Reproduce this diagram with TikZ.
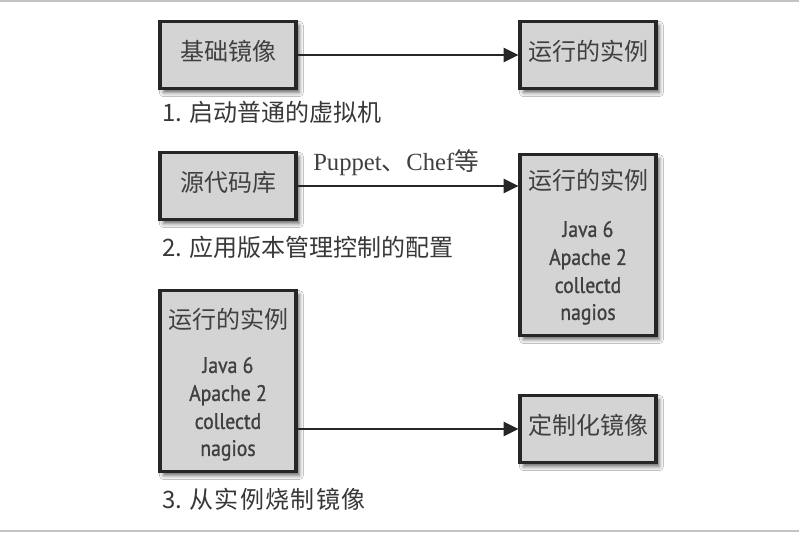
\documentclass[tikz,border=0pt]{standalone}
\usepackage{fontspec}
\setmainfont{Liberation Serif}
\newfontfamily\cjk{Noto Sans CJK SC}
\newfontfamily\cond[FakeStretch=0.88,FakeBold=1]{PT Sans}
\usetikzlibrary{shadows.blur,arrows.meta,calc}
\definecolor{boxfill}{HTML}{D4D4D4}
\definecolor{boxline}{HTML}{262626}
\definecolor{txt}{HTML}{404040}
\definecolor{lbltxt}{HTML}{383838}
\definecolor{framecol}{HTML}{C4C4C4}
\begin{document}
\begin{tikzpicture}[x=0.75pt,y=-0.75pt,
  box/.style={draw=boxline, line width=2.4pt, fill=boxfill, minimum width=102pt,
    minimum height=50.5pt, inner sep=0pt,
    blur shadow={shadow xshift=2.5pt, shadow yshift=-3pt, shadow blur radius=3pt, shadow opacity=60}},
  tallbox/.style={box, minimum height=135.75pt},
  cjktext/.style={font=\cjk\fontsize{18pt}{22pt}\selectfont, text=txt, inner sep=0pt,
    text height=0.76em, text depth=0pt},
  condtext/.style={font=\cond\fontsize{16.8pt}{19pt}\selectfont, text=txt, inner sep=0pt, anchor=base},
  lbl/.style={font=\cjk\fontsize{18pt}{22pt}\selectfont, text=lbltxt, inner sep=0pt,
    text height=0.76em, text depth=0pt, anchor=west},
  arr/.style={draw=boxline, line width=1.8pt, -{Triangle[length=11pt,width=10.5pt]}}
]
\useasboundingbox (0,0) rectangle (799,533);
\fill[white] (0,0) rectangle (799,533);
\coordinate (tl) at (0,1);
\coordinate (tr) at (799,1);
\coordinate (bl) at (0,531);
\coordinate (br) at (799,531);
\draw[framecol, line width=1.6pt] (tl) -- (tr);
\draw[framecol, line width=1.6pt] (bl) -- (br);

% row 1
\node[box, cjktext] (b1) at (228,55) {基础镜像};
\node[box, cjktext] (b2) at (588,55) {运行的实例};
\draw[arr] (b1) -- (b2);
\node[lbl] (l1) at (162,116.5) {1. 启动普通的虚拟机};

% row 2
\node[box, cjktext] (b3) at (228,186) {源代码库};
\node[tallbox] (b4) at (588,245) {};
\node[cjktext] (b4h) at ($(b4.north)+(0,32)$) {运行的实例};
\node[condtext] (b4a) at ($(b4.north)+(0,84)$) {Java 6};
\node[condtext] (b4b) at ($(b4.north)+(0,112)$) {Apache 2};
\node[condtext] (b4c) at ($(b4.north)+(0,140)$) {collectd};
\node[condtext] (b4d) at ($(b4.north)+(0,167)$) {nagios};
\draw[arr] (b3.east) -- (b3.east -| b4.west);
\node[anchor=base west, inner sep=0pt, text=txt, font=\fontsize{18.5pt}{22pt}\selectfont] (pl) at (313,170) {Puppet{\cjk 、}Chef{\cjk 等}};
\node[lbl] (l2) at (162,251) {2. 应用版本管理控制的配置};

% row 3
\node[tallbox] (b5) at (228,381) {};
\node[cjktext] (b5h) at ($(b5.north)+(0,35)$) {运行的实例};
\node[condtext] (b5a) at ($(b5.north)+(0,84)$) {Java 6};
\node[condtext] (b5b) at ($(b5.north)+(0,112)$) {Apache 2};
\node[condtext] (b5c) at ($(b5.north)+(0,140)$) {collectd};
\node[condtext] (b5d) at ($(b5.north)+(0,167)$) {nagios};
\node[box, cjktext] (b6) at (588,429) {定制化镜像};
\draw[arr] (b5.east |- b6.west) -- (b6.west);
\node[lbl] (l3) at (162,503.5) {3. 从\kern1pt 实\kern1pt 例\kern1pt 烧\kern1pt 制\kern1pt 镜\kern1pt 像};
\end{tikzpicture}
\end{document}
